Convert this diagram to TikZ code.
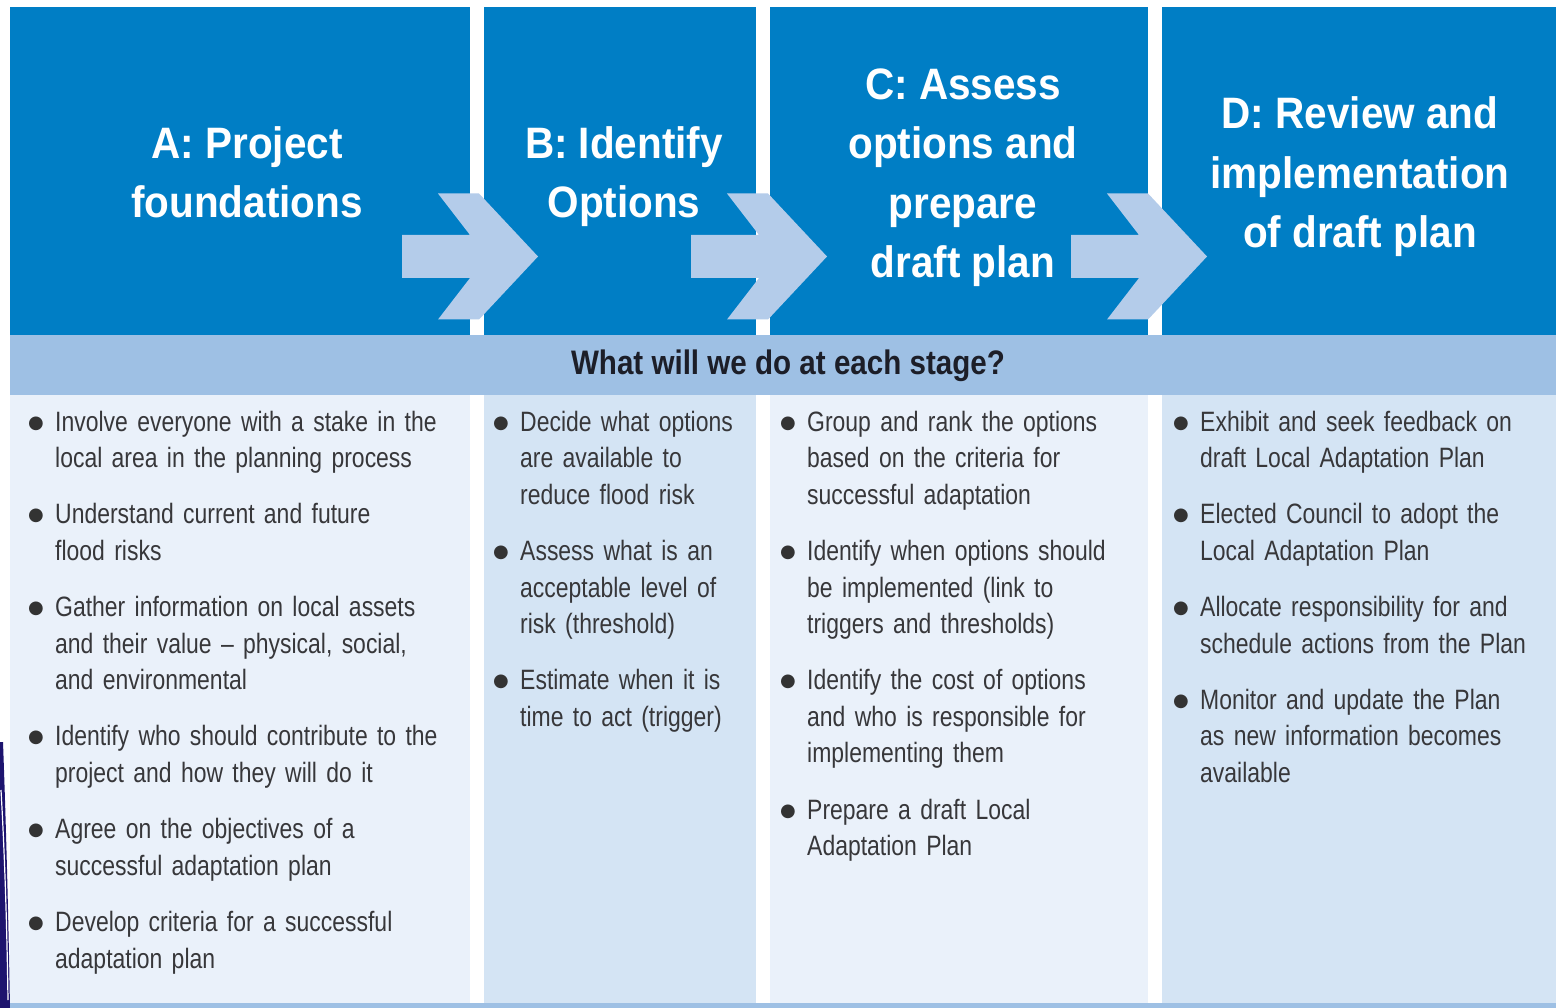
\documentclass[tikz,border=0pt]{standalone}
\usepackage{fontspec}
\setmainfont{Liberation Sans}[FakeStretch=0.82]
\newfontfamily\hdfont{Liberation Sans}[FakeStretch=0.92]
\newfontfamily\bandfont{Liberation Sans}[FakeStretch=0.87]
\newfontfamily\symfont{DejaVu Sans}
\definecolor{hdblue}{RGB}{0,126,197}
\definecolor{arrowblue}{RGB}{180,204,234}
\definecolor{bandblue}{RGB}{158,192,228}
\definecolor{bodyA}{RGB}{234,241,250}
\definecolor{bodyB}{RGB}{212,228,244}
\definecolor{bandtext}{RGB}{28,30,40}
\definecolor{bodytxt}{RGB}{55,55,58}
\definecolor{navyedge}{RGB}{30,20,110}
\tikzset{
  hdtext/.style={text=white, font=\hdfont\bfseries\fontsize{44}{59.5}\selectfont, align=center, anchor=base, inner sep=0pt},
  bodytext/.style={text=bodytxt, font=\fontsize{28}{36.6}\selectfont, text width=520pt, align=left, anchor=base west, inner sep=0pt},
  bandlabel/.style={text=bandtext, font=\bandfont\bfseries\fontsize{34}{40}\selectfont, anchor=base, inner sep=0pt},
  hdbox/.style={fill=hdblue},
  lightcol/.style={fill=bodyA},
  darkcol/.style={fill=bodyB},
  stagearrow/.style={fill=arrowblue},
}
\newcommand\bulletmark{\makebox[27pt][l]{\raisebox{3pt}{\color{black!80}\symfont\fontsize{18}{18}\selectfont ●}}}
\newcommand\bitem[1]{{\setlength{\parskip}{0pt}\hangindent=27pt\hangafter=1\noindent\bulletmark\let\\\newline #1\par}\vspace{19.6pt}}
\newcommand\stagearrowat[1]{%
  \fill[stagearrow] (#1) ++(-136,-21.5) -- ++(68,0) -- ++(-32,-41.5) -- ++(41,0)
    -- ++(59,63) -- ++(-59,63) -- ++(-41,0) -- ++(32,-41.5) -- ++(-68,0) -- cycle;}
\begin{document}
\begin{tikzpicture}[x=1pt,y=-1pt]
\useasboundingbox (0,0) rectangle (1556,1008);
\fill[white] (0,0) rectangle (1556,1008);
% header boxes
\fill[hdbox] (10,7) rectangle (470,335);
\fill[hdbox] (484,7) rectangle (756,335);
\fill[hdbox] (770,7) rectangle (1148,335);
\fill[hdbox] (1162,7) rectangle (1556,335);
% band
\fill[bandblue] (10,335) rectangle (1556,395);
% body columns
\fill[lightcol] (10,395) rectangle (470,1003);
\fill[darkcol] (484,395) rectangle (756,1003);
\fill[lightcol] (770,395) rectangle (1148,1003);
\fill[darkcol] (1162,395) rectangle (1556,1003);
\fill[bandblue] (10,1003) rectangle (1556,1008);
% left edge artefact
\fill[navyedge] (0,742) -- (3,742) .. controls (7,850) and (9,950) .. (10,1008) -- (0,1008) -- cycle;
\draw[white, line width=1.2pt] (1,790) .. controls (5,860) and (7,930) .. (8,1000);
% arrows
\coordinate (tipAB) at (538,256.5);
\coordinate (tipBC) at (827,256.5);
\coordinate (tipCD) at (1207,256.5);
\stagearrowat{tipAB}
\stagearrowat{tipBC}
\stagearrowat{tipCD}
% headers (anchored at the baseline of their last line)
\node[hdtext] (hA) at (247,218) {A: Project\\foundations};
\node[hdtext] (hB) at (624,218) {B: Identify\\Options};
\node[hdtext] (hC) at (963,278) {C: Assess\\options and\\prepare\\draft plan};
\node[hdtext] (hD) at (1360,248) {D: Review and\\implementation\\of draft plan};
% band label
\node[bandlabel] (band) at (788,374) {What will we do at each stage?};
% body texts
\node[bodytext] (tA) at (28,431) {%
\bitem{Involve everyone with a stake in the\\local area in the planning process}
\bitem{Understand current and future\\flood risks}
\bitem{Gather information on local assets\\and their value -- physical, social,\\and environmental}
\bitem{Identify who should contribute to the\\project and how they will do it}
\bitem{Agree on the objectives of a\\successful adaptation plan}
\bitem{Develop criteria for a successful\\adaptation plan}};
\node[bodytext] (tB) at (493,431) {%
\bitem{Decide what options\\are available to\\reduce flood risk}
\bitem{Assess what is an\\acceptable level of\\risk (threshold)}
\bitem{Estimate when it is\\time to act (trigger)}};
\node[bodytext] (tC) at (780,431) {%
\bitem{Group and rank the options\\based on the criteria for\\successful adaptation}
\bitem{Identify when options should\\be implemented (link to\\triggers and thresholds)}
\bitem{Identify the cost of options\\and who is responsible for\\implementing them}
\bitem{Prepare a draft Local\\Adaptation Plan}};
\node[bodytext] (tD) at (1173,431) {%
\bitem{Exhibit and seek feedback on\\draft Local Adaptation Plan}
\bitem{Elected Council to adopt the\\Local Adaptation Plan}
\bitem{Allocate responsibility for and\\schedule actions from the Plan}
\bitem{Monitor and update the Plan\\as new information becomes\\available}};
\end{tikzpicture}
\end{document}
